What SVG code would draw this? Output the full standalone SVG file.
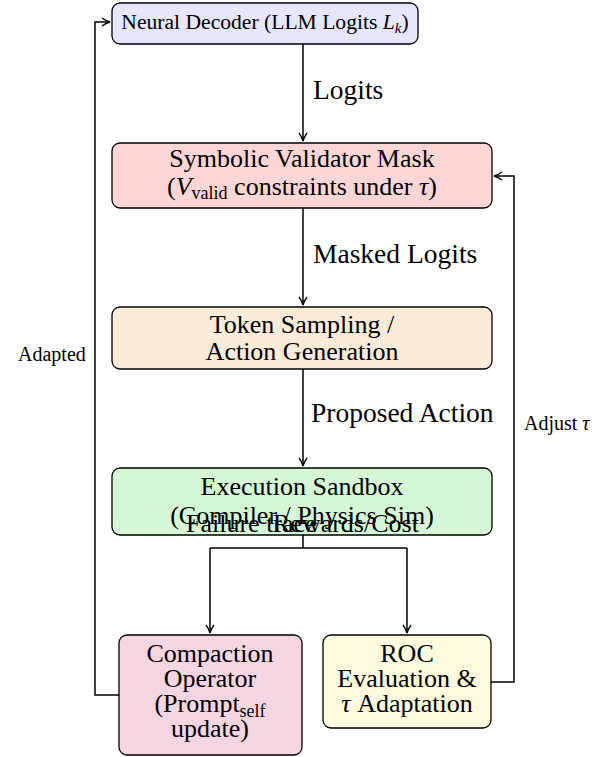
<svg xmlns="http://www.w3.org/2000/svg" width="611" height="757" viewBox="0 0 611 757">
<defs>
<marker id="ah" viewBox="0 0 10 10" refX="9" refY="5" markerWidth="10" markerHeight="10" markerUnits="userSpaceOnUse" orient="auto">
<path d="M1,1 Q5,4 9,5 Q5,6 1,9" fill="none" stroke="#000" stroke-width="1.3"/>
</marker>
<style>
.box{stroke:#000;stroke-width:1.3}
.t{font-family:"Liberation Serif",serif;font-size:26px;fill:#000;text-anchor:middle}
.l{font-family:"Liberation Serif",serif;font-size:27.5px;fill:#000}
.s{font-family:"Liberation Serif",serif;font-size:20px;fill:#000}
.c{fill:none;stroke:#000;stroke-width:1.5}
</style>
</defs>
<g id="decoder">
<rect class="box" x="112" y="3" width="306" height="41" rx="8" fill="#e6e6fc"/>
<text class="t" x="265" y="29" style="font-size:21.6px">Neural Decoder (LLM Logits <tspan font-style="italic">L</tspan><tspan font-style="italic" font-size="15" dy="4">k</tspan><tspan dy="-4">)</tspan></text>
</g>
<g id="validator">
<rect class="box" x="112" y="143" width="380" height="65" rx="8" fill="#ffd6d6"/>
<text class="t" x="302" y="167">Symbolic Validator Mask</text>
<text class="t" x="302" y="195">(<tspan font-style="italic">V</tspan><tspan font-size="18" dy="4">valid</tspan><tspan dy="-4"> constraints under </tspan><tspan font-style="italic">τ</tspan>)</text>
</g>
<g id="sampling">
<rect class="box" x="112" y="307" width="380" height="62" rx="8" fill="#fdebd9"/>
<text class="t" x="302" y="333">Token Sampling /</text>
<text class="t" x="302" y="360">Action Generation</text>
</g>
<g id="sandbox">
<rect class="box" x="112" y="468" width="380" height="67" rx="8" fill="#d5f7d5"/>
<text class="t" x="302" y="495">Execution Sandbox</text>
<text class="t" x="302" y="524">(Compiler / Physics Sim)</text>
</g>
<g id="compaction">
<rect class="box" x="119" y="635" width="183" height="120" rx="8" fill="#f3d6e1"/>
<text class="t" x="210" y="662">Compaction</text>
<text class="t" x="210" y="687">Operator</text>
<text class="t" x="210" y="712">(Prompt<tspan font-size="18" dy="5">self</tspan></text>
<text class="t" x="210" y="737">update)</text>
</g>
<g id="roc">
<rect class="box" x="323" y="635" width="168" height="93" rx="8" fill="#fffadd"/>
<text class="t" x="407" y="662">ROC</text>
<text class="t" x="407" y="687">Evaluation &amp;</text>
<text class="t" x="407" y="712"><tspan font-style="italic">τ</tspan> Adaptation</text>
</g>
<g id="connectors">
<path class="c" d="M303,44 V141" marker-end="url(#ah)"/>
<path class="c" d="M303,208 V305" marker-end="url(#ah)"/>
<path class="c" d="M303,369 V466" marker-end="url(#ah)"/>
<path class="c" d="M303,535 V548"/>
<path class="c" d="M210,548 H407"/>
<path class="c" d="M210,548 V633" marker-end="url(#ah)"/>
<path class="c" d="M407,548 V633" marker-end="url(#ah)"/>
<path class="c" d="M119,695 H95 V22 H110" marker-end="url(#ah)"/>
<path class="c" d="M491,682 H514 V176 H494" marker-end="url(#ah)"/>
<text class="l" x="313" y="99">Logits</text>
<text class="l" x="313" y="263">Masked Logits</text>
<text class="l" x="311" y="422">Proposed Action</text>
<text class="s" x="18" y="361">Adapted</text>
<text class="s" x="524" y="430">Adjust <tspan font-style="italic">τ</tspan></text>
<text class="t" x="186" y="532" style="text-anchor:start">Failure trace</text>
<text class="t" x="273" y="532" style="text-anchor:start">Rewards/Cost</text>
</g>
</svg>
